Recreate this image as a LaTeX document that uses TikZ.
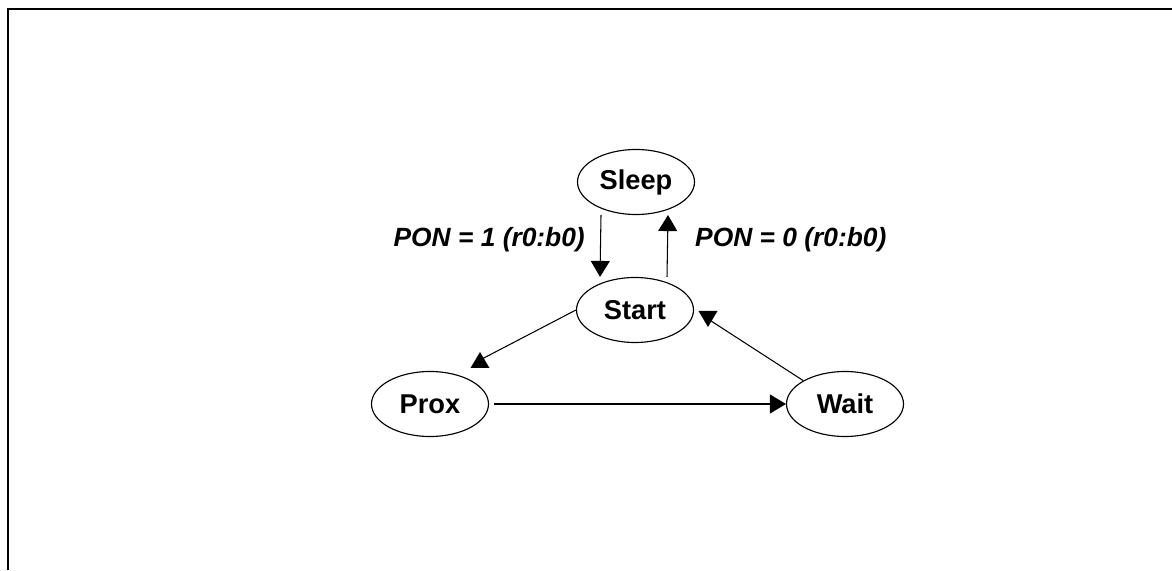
\documentclass[tikz,border=0pt]{standalone}
\usepackage{fontspec}
\setmainfont{Liberation Sans}
\usetikzlibrary{shapes,arrows.meta,positioning,calc}

\tikzset{
  state/.style={ellipse, draw, line width=0.65pt, inner sep=0pt,
    minimum width=2.34cm, minimum height=1.3cm,
    font=\fontsize{15.5}{17}\selectfont\bfseries},
  trans/.style={line width=0.6pt, -{Triangle[length=0.32cm,width=0.38cm]}},
  plain/.style={line width=0.6pt},
  cond/.style={font=\fontsize{15}{17}\selectfont\bfseries\itshape}
}

\begin{document}
\begin{tikzpicture}
\useasboundingbox (0,0) rectangle (23.44,11.4);

% Frame
\draw[line width=1.3pt] (0.16,0) -- (0.16,11.22) -- (23.44,11.22);

% States
\node[state] (sleep) at (12.72,7.76) {Sleep};
\node[state] (start) at (12.70,5.20) {Start};
\node[state] (prox) at (8.60,3.32) {Prox};
\node[state] (wait) at (16.90,3.32) {Wait};

% Conditions
\node[cond, anchor=east] (pon1) at (11.82,6.60) {PON = 1 (r0:b0)};
\node[cond, anchor=west] (pon0) at (13.78,6.60) {PON = 0 (r0:b0)};

% Transitions
\draw[trans] ([xshift=-0.70cm]sleep.south) -- ([xshift=-0.70cm]start.north);
\draw[trans] ([xshift=0.64cm]start.north) -- ([xshift=0.64cm]sleep.south);
\draw[trans, shorten <=0.1cm] (prox.east) -- (wait.west);

% Tips of the slanted lines
\coordinate (proxtip) at (9.60,4.20);
\coordinate (starttip) at (14.16,5.02);
\draw[plain] (start.west) -- (proxtip);
\fill ($(proxtip)+(0,0.16)$) -- ++(-0.19,-0.32) -- ++(0.38,0) -- cycle;
\draw[plain] (wait.north west) -- (starttip);
\fill ($(starttip)+(0,-0.16)$) -- ++(-0.19,0.32) -- ++(0.38,0) -- cycle;

\end{tikzpicture}
\end{document}
